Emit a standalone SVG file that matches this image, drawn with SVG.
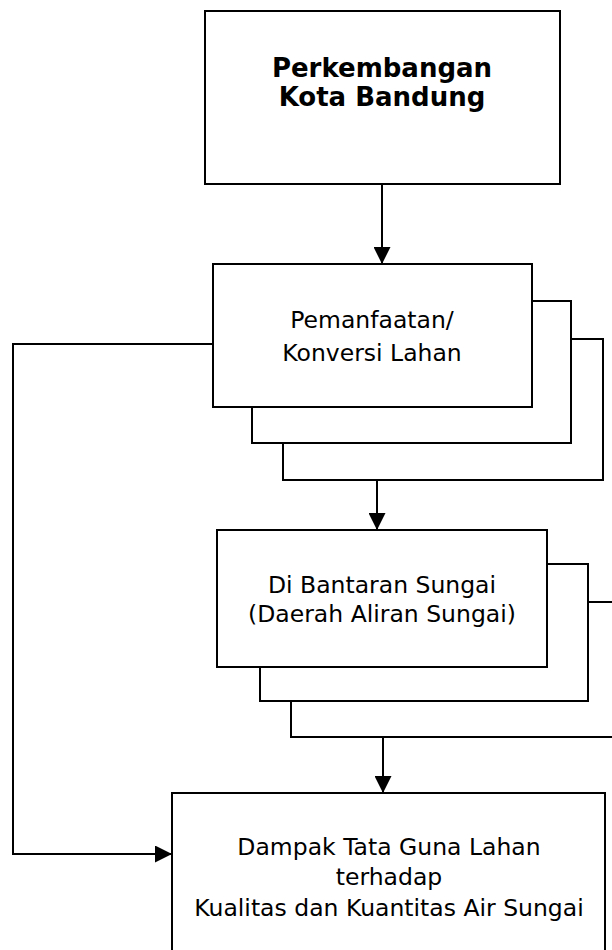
<svg xmlns="http://www.w3.org/2000/svg" width="612" height="950" viewBox="0 0 612 950">
  <style>
    .box { fill: #ffffff; stroke: #000000; stroke-width: 2; }
    .wire { fill: none; stroke: #000000; stroke-width: 2; }
    .lbl { font-family: "DejaVu Sans", Verdana, sans-serif; font-size: 23.5px; fill: #000000; text-anchor: middle; }
    .title { font-family: "DejaVu Sans", Verdana, sans-serif; font-size: 26px; font-weight: bold; fill: #000000; text-anchor: middle; }
  </style>
  <defs>
    <marker id="arrow" viewBox="0 0 10 10" refX="10" refY="5" markerWidth="8.5" markerHeight="8.5" markerUnits="strokeWidth" orient="auto">
      <path d="M0,0 L10,5 L0,10 Z" fill="#000000"/>
    </marker>
  </defs>
  <rect width="612" height="950" fill="#ffffff"/>

  <!-- Top node -->
  <g id="perkembangan">
    <rect class="box" x="205" y="11" width="355" height="173"/>
    <text class="title" x="382" y="77">Perkembangan</text>
    <text class="title" x="382" y="106">Kota Bandung</text>
  </g>

  <!-- Land use node, stacked -->
  <g id="pemanfaatan">
    <rect class="box" x="283" y="339" width="320" height="141"/>
    <rect class="box" x="252" y="301" width="319" height="142"/>
    <rect class="box" x="213" y="264" width="319" height="143"/>
    <text class="lbl" x="372" y="328">Pemanfaatan/</text>
    <text class="lbl" x="372" y="361">Konversi Lahan</text>
  </g>

  <!-- Riverbank node, stacked -->
  <g id="bantaran">
    <rect class="box" x="291" y="602" width="340" height="135"/>
    <rect class="box" x="260" y="564" width="328" height="137"/>
    <rect class="box" x="217" y="530" width="330" height="137"/>
    <text class="lbl" x="382" y="593">Di Bantaran Sungai</text>
    <text class="lbl" x="382" y="622">(Daerah Aliran Sungai)</text>
  </g>

  <!-- Impact node -->
  <g id="dampak">
    <rect class="box" x="172" y="793" width="433" height="180"/>
    <text class="lbl" x="389" y="855">Dampak Tata Guna Lahan</text>
    <text class="lbl" x="389" y="885">terhadap</text>
    <text class="lbl" x="389" y="916">Kualitas dan Kuantitas Air Sungai</text>
  </g>

  <!-- Connectors -->
  <g id="connectors">
    <path class="wire" d="M382,184 V264" marker-end="url(#arrow)"/>
    <path class="wire" d="M377,480 V530" marker-end="url(#arrow)"/>
    <path class="wire" d="M383,737 V793" marker-end="url(#arrow)"/>
    <path class="wire" d="M213,344 H13 V854 H172" marker-end="url(#arrow)"/>
  </g>
</svg>
